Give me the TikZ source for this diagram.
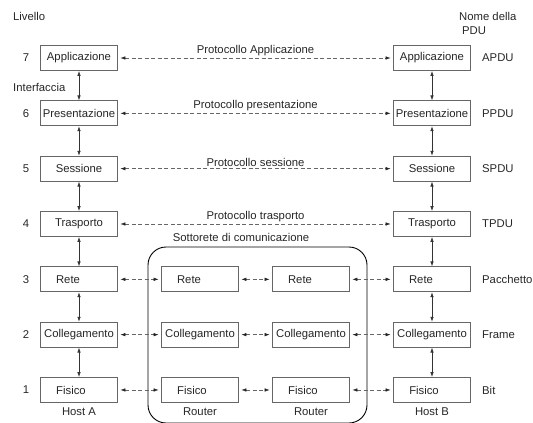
\documentclass[tikz,border=0pt]{standalone}
\usepackage{fontspec}
\setmainfont{Liberation Sans}
\usetikzlibrary{arrows.meta}
\begin{document}
\begin{tikzpicture}[x=1pt,y=-1pt,
  font=\fontsize{11.3}{13}\selectfont,
  every node/.style={text=black!85},
  layer/.style={draw=black!60, line width=0.7pt, fill=white, minimum width=77pt, minimum height=25pt, inner sep=0pt},
  iface/.style={black!80, line width=0.7pt, {Latex[length=5pt,width=3.5pt]}-{Latex[length=5pt,width=3.5pt]}},
  peer/.style={black!60, line width=0.6pt, dash pattern=on 4pt off 2.5pt, shorten <=2.5pt, shorten >=2.5pt,
    {Latex[length=5pt,width=3.5pt,black!85]}-{Latex[length=5pt,width=3.5pt,black!85]}},
  side/.style={anchor=west, inner sep=0pt}]
\useasboundingbox (0,0) rectangle (533,423);

% column centres
\def\xA{79} \def\xR{200} \def\xS{311} \def\xB{432}

% communication subnet
\draw[line width=0.9pt, rounded corners=18pt] (148,247) rectangle (367,423);
\node at (241,237) {Sottorete di comunicazione};

% layer captions, with their horizontal offset inside the box
\def\layertext#1{%
  \ifnum#1=3 \hspace*{-11pt}Rete\hspace*{11pt}\else
  \ifnum#1=1 \hspace*{-8pt}Fisico\hspace*{8pt}\else
  \ifnum#1=7 Applicazione\else
  \ifnum#1=6 Presentazione\else
  \ifnum#1=5 Sessione\else
  \ifnum#1=4 Trasporto\else
  Collegamento\fi\fi\fi\fi\fi\fi}

% host layers
\foreach \k in {7,6,5,4,3,2,1}{
  \pgfmathsetmacro\yy{58+(7-\k)*55.33}
  \node[layer] (A\k) at (\xA,\yy) {\layertext{\k}};
  \node[layer] (B\k) at (\xB,\yy) {\layertext{\k}};
  \node[anchor=center] (n\k) at (26,\yy) {\k};
}
% router layers
\foreach \k in {3,2,1}{
  \pgfmathsetmacro\yy{58+(7-\k)*55.33}
  \node[layer] (R\k) at (\xR,\yy) {\layertext{\k}};
  \node[layer] (S\k) at (\xS,\yy) {\layertext{\k}};
}

% interfaces between adjacent layers
\foreach \k/\j in {7/6,6/5,5/4,4/3,3/2,2/1}{
  \draw[iface] (A\k) -- (A\j);
  \draw[iface] (B\k) -- (B\j);
}

% peer protocols
\foreach \k/\lab in {7/Protocollo Applicazione,6/Protocollo presentazione,5/Protocollo sessione,4/Protocollo trasporto}{
  \draw[peer] (A\k) -- node[above, inner sep=2pt] {\lab} (B\k);
}
\foreach \k in {3,2,1}{
  \draw[peer] (A\k) -- (R\k);
  \draw[peer] (R\k) -- (S\k);
  \draw[peer] (S\k) -- (B\k);
}

% headings
\node[side] (liv) at (13,16) {Livello};
\node[side] (intf) at (13,87) {Interfaccia};
\node[side] (nome) at (459,16) {Nome della};
\node[side] (pdu) at (462,31) {PDU};

% PDU names
\foreach \k/\p in {7/APDU,6/PPDU,5/SPDU,4/TPDU,3/Pacchetto,2/Frame,1/Bit}{
  \pgfmathsetmacro\yy{58+(7-\k)*55.33}
  \node[side] (p\k) at (482,\yy) {\p};
}

% machine names
\node (hA) at (\xA,412) {Host A};
\node (hR) at (\xR,412) {Router};
\node (hS) at (\xS,412) {Router};
\node (hB) at (\xB,412) {Host B};
\end{tikzpicture}
\end{document}
